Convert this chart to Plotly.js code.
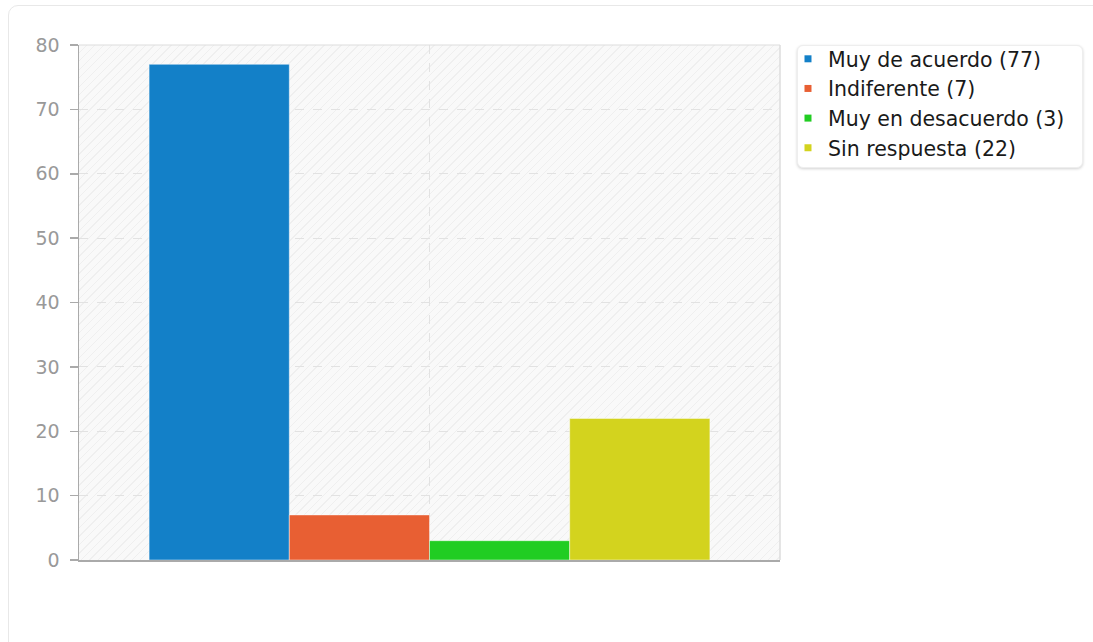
<!DOCTYPE html>
<html>
<head>
<meta charset="utf-8">
<script src="https://cdn.plot.ly/plotly-3.0.1.min.js"></script>
<style>
  html, body { margin: 0; padding: 0; background: #fff; width: 1093px; height: 642px; overflow: hidden; }
  #card { position: absolute; left: 8px; top: 5px; width: 1200px; height: 700px; border: 1px solid #e8e8e8; border-radius: 10px; box-sizing: border-box; }
  #hatch { position: absolute; left: 79px; top: 45px; width: 701px; height: 515px;
    background: repeating-linear-gradient(135deg, #f9f9f9 0px, #f9f9f9 5px, #efefef 5px, #efefef 6px); }
  #legbox { position: absolute; left: 797px; top: 45px; width: 286px; height: 123px; background: #fff;
    border: 1px solid #eeeeee; border-radius: 6px; box-sizing: border-box; box-shadow: 0 1px 3px rgba(0,0,0,0.18); }
  #chart { position: absolute; left: 0; top: 0; width: 1093px; height: 642px; }
</style>
</head>
<body>
<div id="card"></div>
<div id="hatch"></div>
<div id="legbox"></div>
<div id="chart"></div>
<script>
const categories = ["Muy de acuerdo", "Indiferente", "Muy en desacuerdo", "Sin respuesta"];
const values = [77, 7, 3, 22];
const colors = ["#1380c8", "#e85f33", "#21cd22", "#d3d31e"];
const yTicks = [0, 10, 20, 30, 40, 50, 60, 70, 80];

const traces = [];
categories.forEach((c, i) => {
  traces.push({
    type: "bar", x: [""], y: [values[i]], name: c, showlegend: false,
    marker: { color: colors[i], line: { color: "rgba(255,255,255,0.45)", width: 1 } },
    hoverinfo: "skip"
  });
});
categories.forEach((c, i) => {
  traces.push({
    type: "scatter", mode: "markers", x: [null], y: [null], name: c + " (" + values[i] + ")",
    showlegend: true,
    marker: { symbol: "square", size: 7, color: colors[i] }
  });
});

const layout = {
  width: 1093, height: 642,
  margin: { l: 79, r: 313, t: 45, b: 82 },
  paper_bgcolor: "rgba(0,0,0,0)", plot_bgcolor: "rgba(0,0,0,0)",
  font: { family: "DejaVu Sans", size: 19, color: "#222" },
  barmode: "group", bargap: 0.2, bargroupgap: 0,
  xaxis: {
    type: "category", range: [-0.5, 0.5], showticklabels: false,
    showgrid: true, gridcolor: "#e2e2e2", griddash: "dash", gridwidth: 1,
    showline: true, linecolor: "#aaaaaa", linewidth: 1.5, ticks: "", fixedrange: true
  },
  yaxis: {
    range: [0, 80], tickvals: yTicks, ticktext: yTicks.map(String),
    showgrid: true, gridcolor: "#e2e2e2", griddash: "dash", gridwidth: 1,
    zeroline: false, showline: true, linecolor: "#aaaaaa", linewidth: 1.5,
    ticks: "outside", ticklen: 8, tickcolor: "#aaaaaa", tickwidth: 1.5,
    ticklabelstandoff: 6,
    tickfont: { family: "DejaVu Sans", size: 19, color: "#999999" }, fixedrange: true
  },
  shapes: [
    { type: "line", xref: "paper", yref: "paper", x0: 0, x1: 1, y0: 1, y1: 1, line: { color: "#dddddd", width: 1 } },
    { type: "line", xref: "paper", yref: "paper", x0: 1, x1: 1, y0: 0, y1: 1, line: { color: "#dddddd", width: 1.5 } }
  ],
  legend: {
    x: 1.0114, xanchor: "left", y: 1.0117, yanchor: "top",
    bgcolor: "rgba(0,0,0,0)", borderwidth: 0,
    font: { family: "DejaVu Sans", size: 20.5, color: "#1a1a1a" },
    tracegroupgap: 2.5
  },
  showlegend: true
};

Plotly.newPlot("chart", traces, layout, { displayModeBar: false, staticPlot: true });
</script>
</body>
</html>
